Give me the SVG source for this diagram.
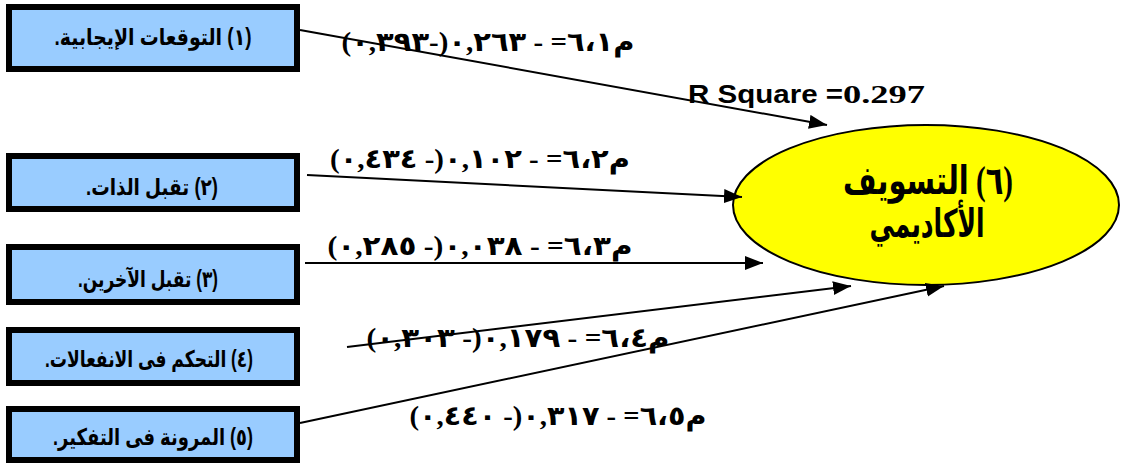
<svg xmlns="http://www.w3.org/2000/svg" width="1128" height="464" viewBox="0 0 1128 464">
<style>
.box{fill:#99CCFF;stroke:#000;stroke-width:6}
.bt{font-family:"Liberation Sans","DejaVu Sans",sans-serif;font-weight:bold;font-size:23px;fill:#000;direction:rtl;text-anchor:middle}
.lb{font-family:"Liberation Serif","DejaVu Serif","DejaVu Sans",serif;font-weight:bold;font-size:27px;fill:#000;direction:rtl;text-anchor:middle}
.et{font-family:"Liberation Serif","DejaVu Serif","DejaVu Sans",serif;font-weight:bold;font-size:39px;fill:#000;direction:rtl;text-anchor:middle}
.ln{stroke:#000;stroke-width:2;fill:none;marker-end:url(#ah)}
</style>
<defs>
<marker id="ah" markerUnits="userSpaceOnUse" markerWidth="20" markerHeight="16" refX="18" refY="7" orient="auto">
<path d="M0,0 L18,7 L0,14 Z" fill="#000"/>
</marker>
</defs>
<rect width="1128" height="464" fill="#fff"/>
<g id="node1"><rect class="box" x="9" y="7" width="288" height="62"/><text class="bt" x="153" y="45" textLength="197" lengthAdjust="spacingAndGlyphs">(١) التوقعات الإيجابية.</text></g>
<g id="node2"><rect class="box" x="9" y="156" width="288" height="53"/><text class="bt" x="152" y="195" textLength="132" lengthAdjust="spacingAndGlyphs">(٢) تقبل الذات.</text></g>
<g id="node3"><rect class="box" x="9" y="247" width="288" height="55"/><text class="bt" x="148" y="287" textLength="140" lengthAdjust="spacingAndGlyphs">(٣) تقبل الآخرين.</text></g>
<g id="node4"><rect class="box" x="9" y="330" width="288" height="53"/><text class="bt" x="149" y="367" textLength="208" lengthAdjust="spacingAndGlyphs">(٤) التحكم فى الانفعالات.</text></g>
<g id="node5"><rect class="box" x="9" y="409" width="288" height="51"/><text class="bt" x="153" y="445" textLength="200" lengthAdjust="spacingAndGlyphs">(٥) المرونة فى التفكير.</text></g>
<g id="node6"><ellipse cx="926" cy="205" rx="193" ry="80" fill="#FFFF00" stroke="#000" stroke-width="2"/><text class="et" x="928" y="194" textLength="170" lengthAdjust="spacingAndGlyphs">(٦) التسويف</text><text class="et" x="927" y="237" textLength="115" lengthAdjust="spacingAndGlyphs">الأكاديمي</text></g>
<g id="connectors">
<line class="ln" x1="300" y1="30" x2="827" y2="125"/>
<line class="ln" x1="307" y1="175" x2="742" y2="197"/>
<line class="ln" x1="305" y1="263" x2="763" y2="263"/>
<line class="ln" x1="347" y1="347" x2="851" y2="286"/>
<line class="ln" x1="300" y1="423" x2="944" y2="286"/>
</g>
<g id="labels">
<text class="lb" x="488" y="51" textLength="293" lengthAdjust="spacingAndGlyphs">م٦،١= - ٠,٢٦٣(-٠,٣٩٣)</text>
<text class="lb" x="480" y="168" textLength="300" lengthAdjust="spacingAndGlyphs">م٦،٢= - ٠,١٠٢(- ٠,٤٣٤)</text>
<text class="lb" x="480" y="255" textLength="305" lengthAdjust="spacingAndGlyphs">م٦،٣= - ٠,٠٣٨(- ٠,٢٨٥)</text>
<text class="lb" x="518" y="347" textLength="303" lengthAdjust="spacingAndGlyphs">م٦،٤= - ٠,١٧٩(- ٠,٣٠٣)</text>
<text class="lb" x="558" y="425" textLength="297" lengthAdjust="spacingAndGlyphs">م٦،٥= - ٠,٣١٧(- ٠,٤٤٠)</text>
<text x="688" y="103" font-family="'Liberation Sans',Arial,sans-serif" font-weight="bold" font-size="25" textLength="155" lengthAdjust="spacingAndGlyphs">R Square =</text>
<text x="843" y="103" font-family="'Liberation Serif','Times New Roman',serif" font-weight="bold" font-size="26" textLength="82" lengthAdjust="spacingAndGlyphs">0.297</text>
</g>
</svg>
